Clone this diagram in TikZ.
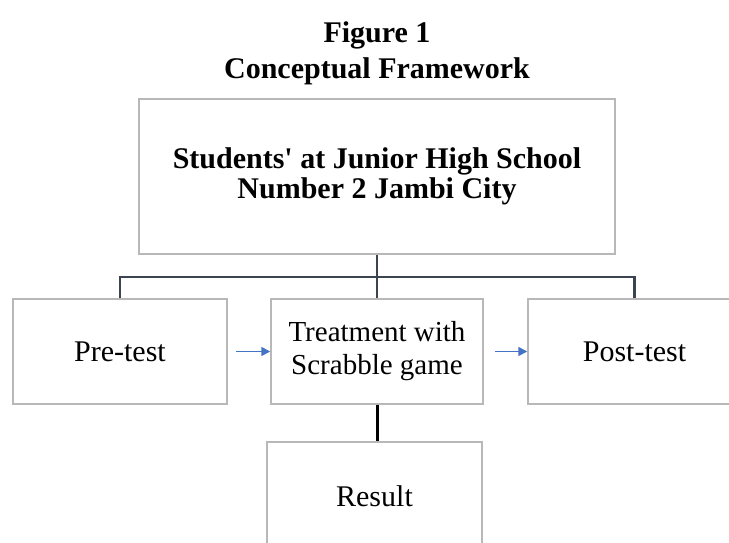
\documentclass[tikz,border=0pt]{standalone}
\usepackage{fontspec}
\setmainfont{Liberation Serif}
\usetikzlibrary{arrows.meta}
\definecolor{boxgray}{HTML}{B8B8B8}
\definecolor{linedark}{HTML}{3C4452}
\definecolor{arrblue}{HTML}{4472C4}
\begin{document}
\begin{tikzpicture}[x=1pt,y=-1pt,
  box/.style={draw=boxgray, line width=1.5pt, inner sep=0pt, align=center, font=\fontsize{30}{33}\selectfont},
  titletext/.style={font=\bfseries\fontsize{30}{35}\selectfont, anchor=base, inner sep=0pt},
  conn/.style={draw=linedark, line width=2.2pt},
  resconn/.style={draw=black, line width=3pt},
  arr/.style={draw=arrblue, line width=1.7pt, -{Triangle[length=9pt,width=9pt]}}]
\useasboundingbox (0,0) rectangle (729,543);
\node[titletext] (t1) at (377,43) {Figure 1};
\node[titletext] (t2) at (377,78) {Conceptual Framework};
\node[box, minimum width=476pt, minimum height=155pt, font=\bfseries\fontsize{30}{30}\selectfont] (top) at (377,176.5) {Students\textquotesingle{} at Junior High School\\Number 2 Jambi City};
\node[box, minimum width=214pt, minimum height=105pt] (pre) at (120,351.5) {Pre-test};
\node[box, minimum width=212pt, minimum height=105pt, font=\fontsize{29}{33}\selectfont] (mid) at (377,351.5) {Treatment with\\Scrabble game};
\node[box, minimum width=213pt, minimum height=105pt] (post) at (634.5,351.5) {Post-test};
\node[box, minimum width=215pt, minimum height=108pt] (res) at (374.5,496) {Result};
\coordinate (bus) at (377,277);
\draw[conn] (top.south) -- (top.south |- mid.north);
\draw[conn] (pre.north) |- (bus) -| (post.north);
\draw[resconn] (mid.south) -- (mid.south |- res.north);
\draw[arr, shorten <=8pt] (pre.east) -- (mid.west);
\draw[arr, shorten <=11pt] (mid.east) -- (post.west);
\end{tikzpicture}
\end{document}
